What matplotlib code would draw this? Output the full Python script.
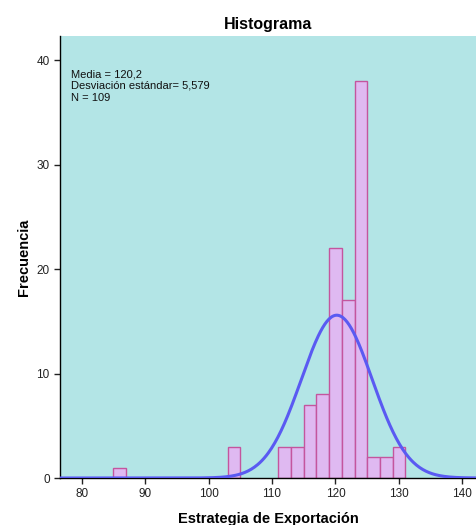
import numpy as np
import matplotlib.pyplot as plt

plt.rcParams['font.family'] = ['Liberation Sans', 'DejaVu Sans']

# histogram bins (left edges, width 2) and counts
bin_left = [85, 103, 111, 113, 115, 117, 119, 121, 123, 125, 127, 129]
counts = [1, 3, 3, 3, 7, 8, 22, 17, 38, 2, 2, 3]
bin_width = 2

media = 120.2
desv = 5.579
n = 109

x_ticks = [80, 90, 100, 110, 120, 130, 140]
y_ticks = [0, 10, 20, 30, 40]


def main():
    fig = plt.figure(figsize=(4.77, 5.25), dpi=100)
    ax = fig.add_axes([0.126, 0.0895, 0.874, 0.8415])
    ax.set_facecolor('#b3e5e6')

    ax.bar(bin_left, counts, width=bin_width, align='edge',
           color='#dfb9f1', edgecolor='#c4559e', linewidth=1.0, zorder=2)

    xs = np.linspace(76, 143, 400)
    pdf = np.exp(-0.5 * ((xs - media) / desv) ** 2) / (desv * np.sqrt(2 * np.pi))
    ax.plot(xs, n * bin_width * pdf, color='#5a5af2', linewidth=2.2, zorder=3)

    ax.set_xlim(76.6, 142.3)
    ax.set_ylim(0, 42.3)
    ax.set_xticks(x_ticks)
    ax.set_yticks(y_ticks)
    ax.tick_params(labelsize=8.5, colors='#222222', length=4, width=1)

    for side in ['top', 'right']:
        ax.spines[side].set_visible(False)
    ax.spines['left'].set_linewidth(1)
    ax.spines['bottom'].set_linewidth(1)

    ax.text(0.026, 0.925,
            'Media = 120,2\nDesviación estándar= 5,579\nN = 109',
            transform=ax.transAxes, fontsize=8, va='top', ha='left',
            linespacing=1.2, color='#111111')

    ax.set_title('Histograma', fontsize=11.5, fontweight='bold', pad=5)
    ax.set_xlabel('Estrategia de Exportación', fontsize=10.5,
                  fontweight='bold', labelpad=8)
    ax.set_ylabel('Frecuencia', fontsize=10.5, fontweight='bold', labelpad=4)

    fig.savefig('out.png', dpi=100)


if __name__ == '__main__':
    main()
